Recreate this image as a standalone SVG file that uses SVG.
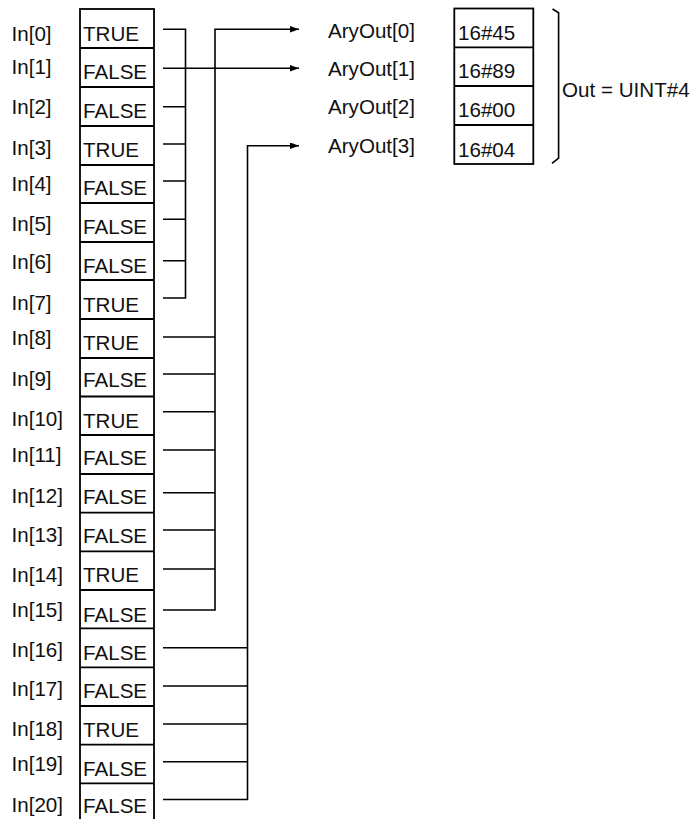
<svg xmlns="http://www.w3.org/2000/svg" width="697" height="819" viewBox="0 0 697 819">
<style>
text{font-family:"Liberation Sans",Arial,sans-serif;font-size:20.6px;fill:#111}
.box{fill:none;stroke:#000;stroke-width:1.8}
.ln{fill:none;stroke:#000;stroke-width:1.6}
</style>
<defs>
<marker id="ah" markerUnits="userSpaceOnUse" markerWidth="10" markerHeight="8" refX="9" refY="3.2" orient="auto">
<path d="M0,0 L9,3.2 L0,6.4 Z" fill="#000"/>
</marker>
</defs>
<rect width="697" height="819" fill="#fff"/>
<g id="labels">
<text x="11.5" y="40.7">In[0]</text>
<text x="11.5" y="74">In[1]</text>
<text x="11.5" y="113.5">In[2]</text>
<text x="11.5" y="155">In[3]</text>
<text x="11.5" y="190.8">In[4]</text>
<text x="11.5" y="230.5">In[5]</text>
<text x="11.5" y="268.7">In[6]</text>
<text x="11.5" y="309.5">In[7]</text>
<text x="11.5" y="345">In[8]</text>
<text x="11.5" y="385.5">In[9]</text>
<text x="11.5" y="426">In[10]</text>
<text x="11.5" y="461.5">In[11]</text>
<text x="11.5" y="502.8">In[12]</text>
<text x="11.5" y="541.5">In[13]</text>
<text x="11.5" y="581.5">In[14]</text>
<text x="11.5" y="617">In[15]</text>
<text x="11.5" y="657">In[16]</text>
<text x="11.5" y="695.5">In[17]</text>
<text x="11.5" y="736">In[18]</text>
<text x="11.5" y="770.5">In[19]</text>
<text x="11.5" y="812">In[20]</text>
</g>
<g id="in-array">
<rect class="box" x="80" y="9" width="74" height="830"/>
<path class="box" d="M80,48H154M80,87H154M80,126H154M80,165H154M80,203H154M80,242H154M80,280H154M80,319H154M80,358H154M80,396.5H154M80,435H154M80,474H154M80,512.7H154M80,551.3H154M80,590H154M80,628.3H154M80,667.3H154M80,706H154M80,744.7H154M80,783.3H154"/>
<text x="83" y="40.7">TRUE</text>
<text x="83" y="79">FALSE</text>
<text x="83" y="117.7">FALSE</text>
<text x="83" y="156.7">TRUE</text>
<text x="83" y="195">FALSE</text>
<text x="83" y="234.3">FALSE</text>
<text x="83" y="272.7">FALSE</text>
<text x="83" y="311.7">TRUE</text>
<text x="83" y="350">TRUE</text>
<text x="83" y="386.5">FALSE</text>
<text x="83" y="427.5">TRUE</text>
<text x="83" y="465">FALSE</text>
<text x="83" y="504.3">FALSE</text>
<text x="83" y="543.3">FALSE</text>
<text x="83" y="581.7">TRUE</text>
<text x="83" y="621.7">FALSE</text>
<text x="83" y="660">FALSE</text>
<text x="83" y="698.3">FALSE</text>
<text x="83" y="736.7">TRUE</text>
<text x="83" y="775.7">FALSE</text>
<text x="83" y="813.3">FALSE</text>
</g>
<g id="connectors">
<path class="ln" d="M163,29.3H185.5V298H163M163,106.7H185.5M163,144H185.5M163,181H185.5M163,219.3H185.5M163,260.7H185.5"/>
<path class="ln" d="M163,68.3H299" marker-end="url(#ah)"/>
<path class="ln" d="M163,610H215V29.3H299" marker-end="url(#ah)"/>
<path class="ln" d="M163,337H215M163,374H215M163,411.7H215M163,450H215M163,492.7H215M163,530H215M163,569H215"/>
<path class="ln" d="M163,799.5H247.5V145.7H299" marker-end="url(#ah)"/>
<path class="ln" d="M163,647.7H247.5M163,686H247.5M163,724H247.5M163,761.7H247.5"/>
</g>
<g id="out-labels">
<text x="328" y="37.5">AryOut[0]</text>
<text x="328" y="75.5">AryOut[1]</text>
<text x="328" y="113.5">AryOut[2]</text>
<text x="328" y="152.5">AryOut[3]</text>
</g>
<g id="out-array">
<rect class="box" x="454.3" y="8.5" width="79" height="155.5"/>
<path class="box" d="M454.3,47.3H533.3M454.3,86H533.3M454.3,125H533.3"/>
<text x="458" y="40">16#45</text>
<text x="458" y="78.3">16#89</text>
<text x="458" y="116.7">16#00</text>
<text x="458" y="156.7">16#04</text>
</g>
<g id="brace">
<path class="ln" d="M552.5,9L558.6,12.7V158L552,163.3"/>
<text x="562" y="96.5">Out = UINT#4</text>
</g>
</svg>
